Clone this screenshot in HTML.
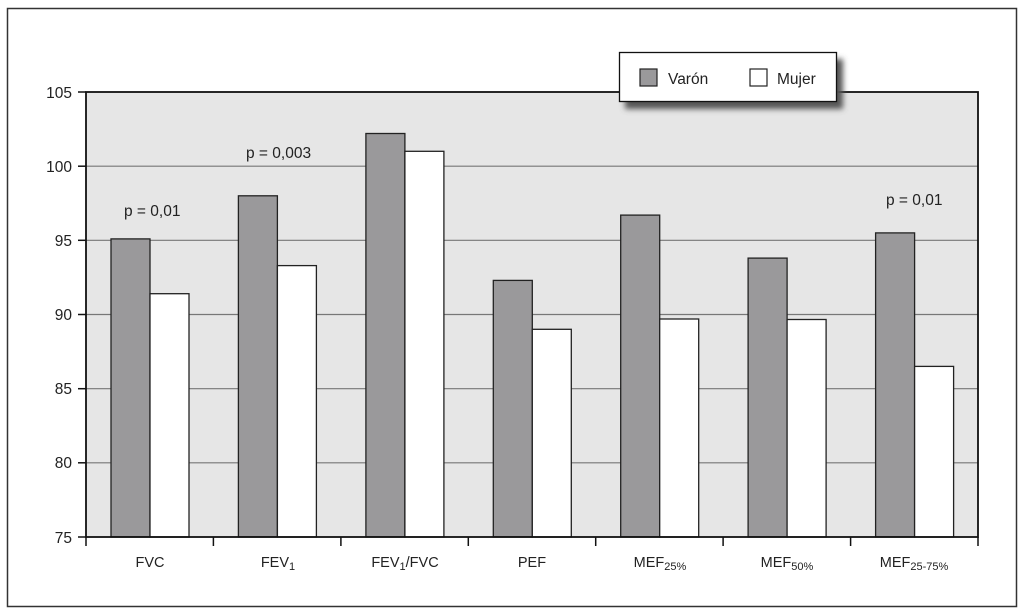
<!DOCTYPE html>
<html><head><meta charset="utf-8"><style>
html,body{margin:0;padding:0;background:#fff}
svg{display:block}
text{font-family:"Liberation Sans",Arial,sans-serif;fill:#222}
</style></head><body>
<svg width="1024" height="614" viewBox="0 0 1024 614" xmlns="http://www.w3.org/2000/svg">
<defs><filter id="sh" x="-20%" y="-20%" width="150%" height="160%"><feGaussianBlur stdDeviation="3"/></filter></defs>
<rect x="7.5" y="8.5" width="1009" height="598" fill="#fff" stroke="#333" stroke-width="1.5"/>
<rect x="86" y="92" width="892" height="445" fill="#e6e6e6"/>
<g stroke="#777" stroke-width="1.2">
<line x1="86" x2="978" y1="166.2" y2="166.2"/>
<line x1="86" x2="978" y1="240.3" y2="240.3"/>
<line x1="86" x2="978" y1="314.5" y2="314.5"/>
<line x1="86" x2="978" y1="388.7" y2="388.7"/>
<line x1="86" x2="978" y1="462.8" y2="462.8"/>
</g>
<g stroke="#222" stroke-width="1.3">
<rect x="111" y="238.9" width="39" height="298.1" fill="#9a999b"/>
<rect x="150" y="293.7" width="39" height="243.3" fill="#fff"/>
<rect x="238.4" y="195.8" width="39" height="341.2" fill="#9a999b"/>
<rect x="277.4" y="265.6" width="39" height="271.4" fill="#fff"/>
<rect x="365.9" y="133.5" width="39" height="403.5" fill="#9a999b"/>
<rect x="404.9" y="151.3" width="39" height="385.7" fill="#fff"/>
<rect x="493.3" y="280.4" width="39" height="256.6" fill="#9a999b"/>
<rect x="532.3" y="329.3" width="39" height="207.7" fill="#fff"/>
<rect x="620.7" y="215.1" width="39" height="321.9" fill="#9a999b"/>
<rect x="659.7" y="319" width="39" height="218" fill="#fff"/>
<rect x="748.1" y="258.1" width="39" height="278.9" fill="#9a999b"/>
<rect x="787.1" y="319.5" width="39" height="217.5" fill="#fff"/>
<rect x="875.6" y="232.9" width="39" height="304.1" fill="#9a999b"/>
<rect x="914.6" y="366.4" width="39" height="170.6" fill="#fff"/>
</g>
<rect x="86" y="92" width="892" height="445" fill="none" stroke="#111" stroke-width="1.8"/>
<g stroke="#111" stroke-width="1.5">
<line x1="78" x2="86" y1="92" y2="92"/><line x1="78" x2="86" y1="166.2" y2="166.2"/>
<line x1="78" x2="86" y1="240.3" y2="240.3"/><line x1="78" x2="86" y1="314.5" y2="314.5"/>
<line x1="78" x2="86" y1="388.7" y2="388.7"/><line x1="78" x2="86" y1="462.8" y2="462.8"/>
<line x1="78" x2="86" y1="537" y2="537"/>
<line x1="86" x2="86" y1="537" y2="546"/><line x1="213.4" x2="213.4" y1="537" y2="546"/>
<line x1="340.9" x2="340.9" y1="537" y2="546"/><line x1="468.3" x2="468.3" y1="537" y2="546"/>
<line x1="595.7" x2="595.7" y1="537" y2="546"/><line x1="723.1" x2="723.1" y1="537" y2="546"/>
<line x1="850.6" x2="850.6" y1="537" y2="546"/><line x1="978" x2="978" y1="537" y2="546"/>
</g>
<g font-size="15.5" text-anchor="end">
<text x="72" y="98">105</text><text x="72" y="172">100</text><text x="72" y="246">95</text>
<text x="72" y="320">90</text><text x="72" y="394">85</text><text x="72" y="468">80</text><text x="72" y="543">75</text>
</g>
<g font-size="14.5" text-anchor="middle">
<text x="150" y="567">FVC</text>
<text x="278" y="567">FEV<tspan font-size="11" dy="3">1</tspan></text>
<text x="405" y="567">FEV<tspan font-size="11" dy="3">1</tspan><tspan dy="-3">/FVC</tspan></text>
<text x="532" y="567">PEF</text>
<text x="660" y="567">MEF<tspan font-size="11" dy="3">25%</tspan></text>
<text x="787" y="567">MEF<tspan font-size="11" dy="3">50%</tspan></text>
<text x="914" y="567">MEF<tspan font-size="11" dy="3">25-75%</tspan></text>
</g>
<g font-size="15.5">
<text x="124" y="216">p = 0,01</text>
<text x="246" y="158">p = 0,003</text>
<text x="886" y="205">p = 0,01</text>
</g>
<rect x="625" y="59" width="218" height="50" fill="#555" filter="url(#sh)"/>
<rect x="619.5" y="52.5" width="217" height="49" fill="#fff" stroke="#111" stroke-width="1.3"/>
<rect x="640" y="69" width="17" height="17" fill="#9a999b" stroke="#222" stroke-width="1.2"/>
<rect x="750" y="69" width="17" height="17" fill="#fff" stroke="#222" stroke-width="1.2"/>
<text x="668" y="84" font-size="15.5">Varón</text>
<text x="777" y="84" font-size="15.5">Mujer</text>
</svg>
</body></html>
